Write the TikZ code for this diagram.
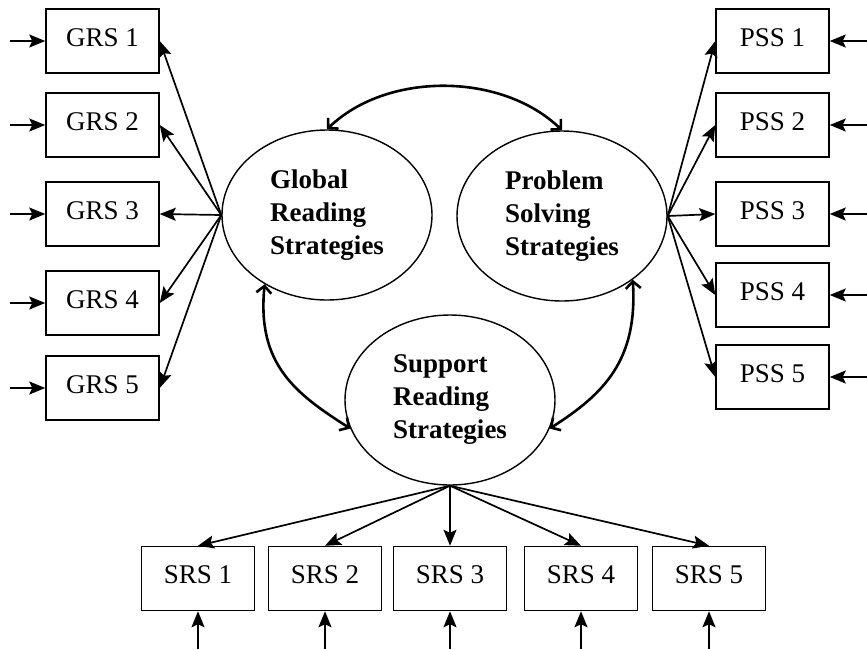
\documentclass[tikz,border=0pt]{standalone}
\usepackage{fontspec}
\setmainfont{Liberation Serif}
\usetikzlibrary{shapes.geometric,arrows.meta}

\begin{document}
\begin{tikzpicture}[x=1pt,y=-1pt,
    item/.style={draw,line width=1.5pt,minimum width=113pt,minimum height=64pt,inner sep=0pt,
      font=\fontsize{27}{30}\selectfont,text depth=7pt},
    factor/.style={ellipse,draw,line width=1.4pt,minimum width=210pt,minimum height=170pt,inner sep=0pt,
      align=left,font=\fontsize{27}{33}\selectfont\bfseries},
    load/.style={line width=1.7pt,-{Stealth[length=16pt,width=13pt,inset=3pt]}},
    cov/.style={line width=2.6pt,{Straight Barb[length=7pt,width=15pt]}-{Straight Barb[length=7pt,width=15pt]}}]
    \useasboundingbox (0,0) rectangle (867,649);

    % latent factors
    \node[factor] (glob) at (327,215) {Global\\Reading\\Strategies};
    \node[factor] (prob) at (562,216) {Problem\\Solving\\Strategies};
    \node[factor] (supp) at (450,400) {Support\\Reading\\Strategies};

    % indicators and their error arrows
    \foreach \i/\yy in {1/41,2/125,3/214,4/303,5/388}{
      \node[item] (grs\i) at (102.5,\yy) {GRS \i};
      \coordinate (egrs\i) at (10,\yy);
      \draw[load] (egrs\i) -- (grs\i);
      \draw[load] (glob.west) -- (grs\i.east);
    }
    \foreach \i/\yy in {1/41,2/125,3/214,4/295,5/377}{
      \node[item] (pss\i) at (772.5,\yy) {PSS \i};
      \coordinate (epss\i) at (867,\yy);
      \draw[load] (epss\i) -- (pss\i);
      \draw[load] (prob.east) -- (pss\i.west);
    }
    \foreach \i/\xx in {1/198,2/325,3/450,4/581,5/709}{
      \node[item] (srs\i) at (\xx,578.5) {SRS \i};
      \coordinate (esrs\i) at (\xx,649);
      \draw[load] (esrs\i) -- (srs\i);
      \draw[load] (supp.south) -- (srs\i.north);
    }

    % correlations
    \draw[cov] (glob.north) .. controls +(60,-58) and +(-60,-58) .. (prob.north);
    \draw[cov] (glob.228) .. controls +(-8,80) and +(-55,-35) .. (supp.196);
    \draw[cov] (prob.318) .. controls +(5,80) and +(55,-35) .. (supp.344);
  \end{tikzpicture}
\end{document}
